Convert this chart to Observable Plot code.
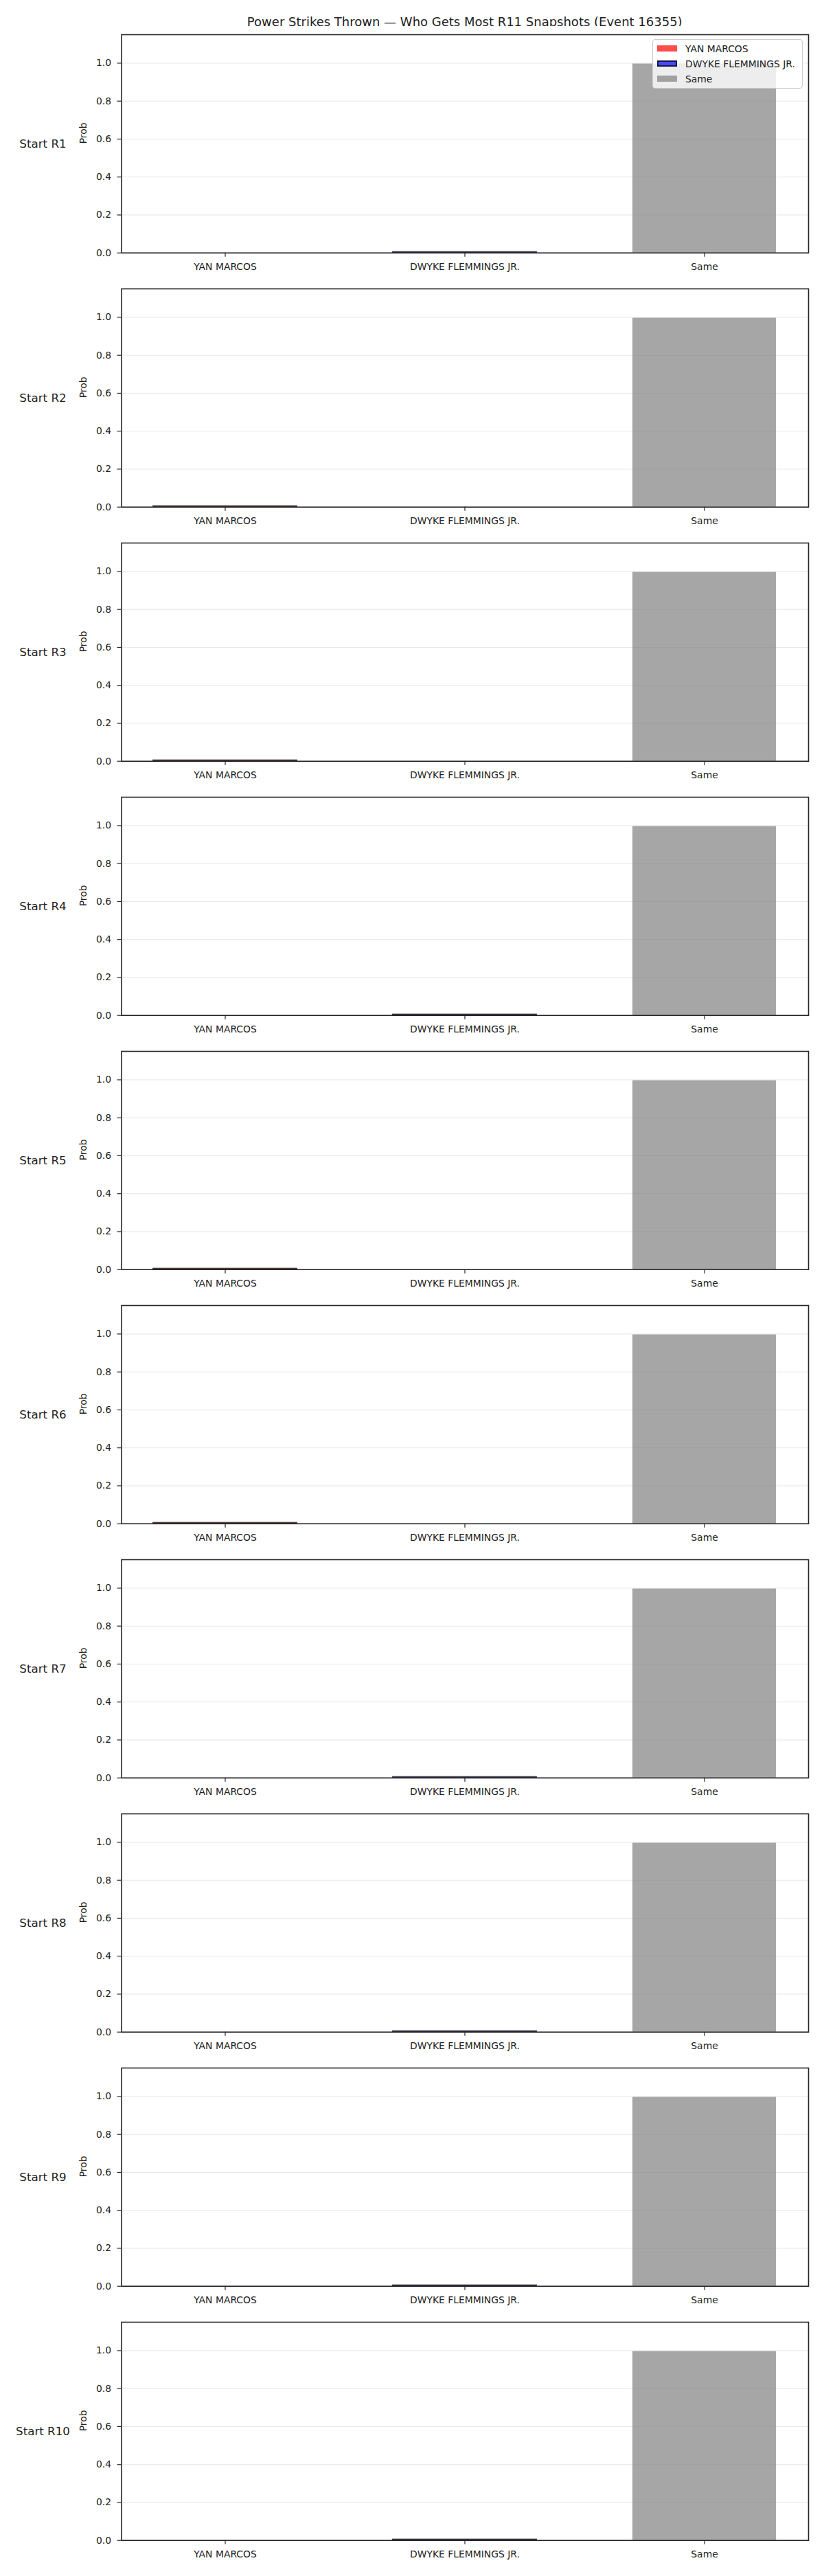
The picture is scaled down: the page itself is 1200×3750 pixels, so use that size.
<!DOCTYPE html>
<html>
<head>
<meta charset="utf-8">
<script src="https://cdn.jsdelivr.net/npm/d3@7"></script>
<script src="https://cdn.jsdelivr.net/npm/@observablehq/plot@0.6"></script>
<style>
  html, body { margin: 0; padding: 0; background: #fff; }
  body { width: 1200px; height: 3750px; position: relative; font-family: "DejaVu Sans", sans-serif; color: #222; }
  #title { position: absolute; left: 176.5px; width: 1000.5px; top: 21px; line-height: 22px; text-align: center; font-size: 18px; white-space: nowrap; }
  #panels { position: absolute; left: 0; top: 38px; width: 1200px; }
  #panels svg { display: block; }
  #legend { position: absolute; left: 950px; top: 56.5px; width: 219px; height: 72.5px; box-sizing: border-box;
            border: 1px solid #cccccc; border-radius: 4px; background: rgba(255,255,255,0.8); font-size: 13.9px; }
  .lg-row { position: absolute; left: 0; height: 20px; line-height: 20px; }
  .lg-sw { position: absolute; left: 6px; top: 5px; width: 28.6px; height: 9.7px; box-sizing: border-box; }
  .lg-tx { position: absolute; left: 47px; top: 0; white-space: nowrap; }
</style>
</head>
<body>
<div id="title"></div>
<div id="panels"></div>
<div id="legend"></div>
<script>
// ---- data ----
const titleText = "Power Strikes Thrown — Who Gets Most R11 Snapshots (Event 16355)";
const starts = ["Start R1","Start R2","Start R3","Start R4","Start R5","Start R6","Start R7","Start R8","Start R9","Start R10"];
const categories = ["YAN MARCOS", "DWYKE FLEMMINGS JR.", "Same"];
const yanProb   = [0,     0.004, 0.004, 0,     0.004, 0.004, 0,     0,     0,     0];
const dwykeProb = [0.004, 0,     0,     0.004, 0,     0,     0.004, 0.004, 0.004, 0.004];
const sameProb  = [0.996, 0.996, 0.996, 0.996, 0.996, 0.996, 0.996, 0.996, 0.996, 0.996];
const yTicks = [0, 0.2, 0.4, 0.6, 0.8, 1.0];
const colors = ["rgb(255,0,0)", "rgb(0,0,255)", "rgb(128,128,128)"];

document.getElementById("title").textContent = titleText;

const container = document.getElementById("panels");
starts.forEach((label, i) => {
  const vals = [yanProb[i], dwykeProb[i], sameProb[i]];
  const lead = yanProb[i] >= dwykeProb[i] ? 0 : 1;
  const rows = categories.map((c, k) => ({cat: c, value: vals[k], hi: k === lead && vals[k] > 0}));
  const chart = Plot.plot({
    width: 1200,
    height: 370,
    marginLeft: 176.5,
    marginRight: 23,
    marginTop: 12,
    marginBottom: 40.3,
    style: {fontFamily: "DejaVu Sans, sans-serif", fontSize: "13.9px", color: "#222", background: "#fff"},
    x: {type: "band", domain: categories, paddingInner: 0.4, paddingOuter: 0.13, label: null},
    y: {domain: [0, 1.15], label: null},
    color: {domain: categories, range: colors},
    marks: [
      Plot.ruleY(yTicks.slice(1), {stroke: "#e7e7e7", strokeWidth: 1}),
      Plot.barY(rows, {x: "cat", y: "value", fill: "cat", fillOpacity: 0.7}),
      Plot.barY(rows.filter(d => d.hi), {x: "cat", y: "value", fill: "none", stroke: "#000", strokeOpacity: 0.7, strokeWidth: 2}),
      Plot.frame({stroke: "#262626", strokeWidth: 1.6}),
      Plot.axisY({ticks: yTicks, tickFormat: d3.format(".1f"), tickSize: 6, tickPadding: 9, label: null, stroke: "#262626", strokeWidth: 1.2, fill: "#222"}),
      Plot.axisX({tickSize: 6, tickPadding: 9, label: null, stroke: "#262626", strokeWidth: 1.2, fill: "#222"}),
      Plot.text(["Prob"], {frameAnchor: "left", dx: -55, rotate: -90, fontSize: 13.9, fill: "#222"}),
      Plot.text([label], {frameAnchor: "left", dx: -114.5, fontSize: 16.7, fill: "#222", textAnchor: "middle"})
    ]
  });
  container.appendChild(chart);
});

// legend (inside first panel, upper right)
const legend = document.getElementById("legend");
const legendStyles = [
  {bg: "rgba(255,0,0,0.7)", border: "none"},
  {bg: "rgba(0,0,255,0.7)", border: "2.5px solid rgba(0,0,0,0.7)"},
  {bg: "rgba(128,128,128,0.7)", border: "none"}
];
const rowTops = [3, 25, 47];
categories.forEach((c, k) => {
  const row = document.createElement("div");
  row.className = "lg-row";
  row.style.top = rowTops[k] + "px";
  const sw = document.createElement("div");
  sw.className = "lg-sw";
  sw.style.background = legendStyles[k].bg;
  sw.style.border = legendStyles[k].border;
  const tx = document.createElement("div");
  tx.className = "lg-tx";
  tx.textContent = c;
  row.appendChild(sw);
  row.appendChild(tx);
  legend.appendChild(row);
});
</script>
</body>
</html>
